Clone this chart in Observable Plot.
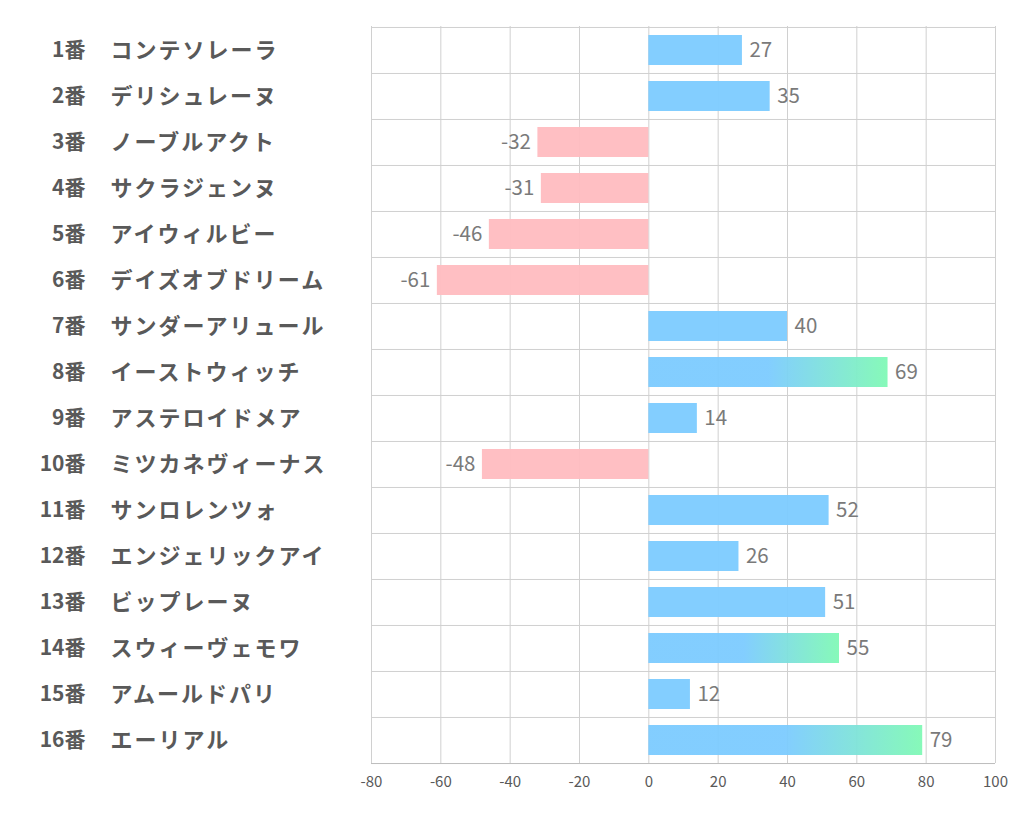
<!DOCTYPE html>
<html><head><meta charset="utf-8">
<script src="https://cdn.jsdelivr.net/npm/d3@7"></script>
<script src="https://cdn.jsdelivr.net/npm/@observablehq/plot@0.6"></script>
<style>
body{margin:0;background:#fff;}
#chart svg{display:block;}
</style>
</head><body><div id="chart"></div>
<script>
const numbers = ["1番","2番","3番","4番","5番","6番","7番","8番","9番","10番","11番","12番","13番","14番","15番","16番"];
const horses = ["コンテソレーラ","デリシュレーヌ","ノーブルアクト","サクラジェンヌ","アイウィルビー","デイズオブドリーム","サンダーアリュール","イーストウィッチ","アステロイドメア","ミツカネヴィーナス","サンロレンツォ","エンジェリックアイ","ビップレーヌ","スウィーヴェモワ","アムールドパリ","エーリアル"];
const values = [27,35,-32,-31,-46,-61,40,69,14,-48,52,26,51,55,12,79];
const highlighted = ["8番","14番","16番"];
const xTicks = [-80,-60,-40,-20,0,20,40,60,80,100];

const data = numbers.map((n,i)=>({num:n, name:horses[i], value:values[i], hi: highlighted.includes(n)}));

const W=1022, H=834, mL=371, mR=27, mT=26, mB=71;
const pad = 0.35;
const step = (H-mT-mB)/numbers.length;
const font = "'Noto Sans CJK JP', 'Noto Sans', sans-serif";

const plot = Plot.plot({
  width: W, height: H,
  marginLeft: mL, marginRight: mR, marginTop: mT, marginBottom: mB,
  style: {fontFamily: font, background: "white", overflow: "visible"},
  x: {domain: [-80,100], label: null},
  y: {domain: numbers, paddingInner: pad, paddingOuter: pad/2, axis: null},
  marks: [
    Plot.ruleX(xTicks, {stroke: "#d0d0d0", strokeWidth: 1}),
    Plot.ruleY(numbers, {y: d=>d, dy: -step/2, stroke: "#d0d0d0"}),
    Plot.ruleY([numbers[numbers.length-1]], {y: d=>d, dy: step/2, stroke: "#bcbcbc"}),
    Plot.barX(data.filter(d=>!d.hi), {x: "value", y: "num", fill: d=> d.value<0 ? "#ffbcc0" : "#7ccbff", fillOpacity: 0.95}),
    Plot.barX(data.filter(d=>d.hi), {x: "value", y: "num", fill: "url(#grad)", fillOpacity: 0.95}),
    Plot.text(data.filter(d=>d.value>=0), {x: "value", y: "num", text: d=>String(d.value), textAnchor: "start", dx: 7, fontSize: 20.5, fill: "#7a7a7a"}),
    Plot.text(data.filter(d=>d.value<0), {x: "value", y: "num", text: d=>String(d.value), textAnchor: "end", dx: -7, fontSize: 20.5, fill: "#7a7a7a"}),
    Plot.text(data, {y: "num", frameAnchor: "left", text: "num", textAnchor: "end", dx: -286, fontSize: 21, fontWeight: "bold", fill: "#595959"}),
    Plot.text(data, {y: "num", frameAnchor: "left", text: "name", textAnchor: "start", dx: -261, fontSize: 22, fontWeight: "bold", fill: "#595959"}),
    Plot.axisX(xTicks, {tickSize: 0, tickPadding: 13, fontSize: 15, color: "#595959", tickFormat: d=>String(d), label: null})
  ]
});

const svg = d3.select(plot);
svg.selectAll("text").filter(function(){ return horses.includes(this.textContent); }).attr("letter-spacing", "2px");
const defs = svg.insert("defs", ":first-child");
const g = defs.append("linearGradient").attr("id","grad").attr("x1","0").attr("x2","1").attr("y1","0").attr("y2","0");
g.append("stop").attr("offset","0.5").attr("stop-color","#7ccbff");
g.append("stop").attr("offset","1").attr("stop-color","#80f9b5");
document.getElementById("chart").appendChild(plot);
</script>
</body></html>
